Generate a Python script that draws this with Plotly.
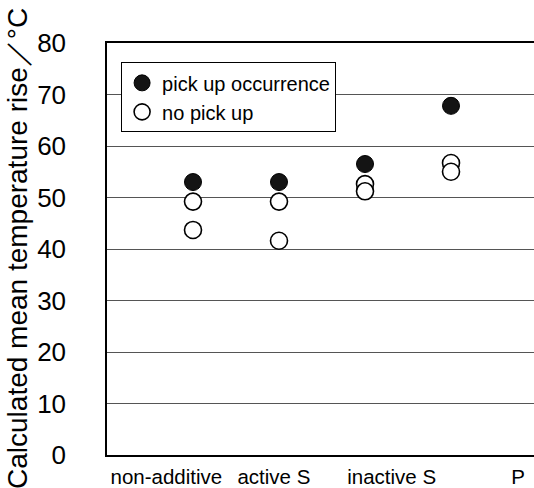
import plotly.graph_objects as go

categories = ["non-additive", "active S", "inactive S", "P"]
pick_up = [53.0, 53.0, 56.5, 67.8]
no_pick_up_upper = [49.2, 49.2, 52.6, 56.7]
no_pick_up_lower = [43.7, 41.6, 51.2, 55.0]
y_ticks = [0, 10, 20, 30, 40, 50, 60, 70, 80]

# category positions on the x axis (1..n) and where the labels are printed
cat_x = [i + 1 for i in range(len(categories))]
label_x = [0.69, 1.94, 3.31, 4.78]

FONT = "Liberation Sans, Arial, sans-serif"

fig = go.Figure()
fig.add_trace(go.Scatter(
    x=cat_x + cat_x,
    y=no_pick_up_upper + no_pick_up_lower,
    mode="markers",
    name="no pick up",
    marker=dict(symbol="circle", size=17, color="white",
                line=dict(color="black", width=1.6)),
))
fig.add_trace(go.Scatter(
    x=cat_x, y=pick_up, mode="markers", name="pick up occurrence",
    marker=dict(symbol="circle", size=17, color="#141414",
                line=dict(color="black", width=1)),
))

fig.update_layout(
    width=534, height=488,
    margin=dict(l=107, r=0, t=43, b=31),
    paper_bgcolor="white", plot_bgcolor="white",
    font=dict(family=FONT, color="black"),
    showlegend=True,
    legend=dict(
        x=0.033, y=0.953, xanchor="left", yanchor="top",
        bordercolor="black", borderwidth=1, bgcolor="white",
        font=dict(size=20, family=FONT), traceorder="reversed",
        itemwidth=30,
    ),
    xaxis=dict(
        range=[0, 4.965], tickvals=label_x, ticktext=categories,
        showgrid=False, zeroline=False, showline=True, linecolor="black",
        linewidth=1.5, mirror=True, ticks="", tickfont=dict(size=20.5),
        ticklabelstandoff=3,
    ),
    yaxis=dict(
        range=[0, 80], tickvals=y_ticks, showgrid=True, gridcolor="#555555",
        gridwidth=1, zeroline=False, showline=True, linecolor="black",
        linewidth=1.5, ticks="", tickfont=dict(size=26),
        ticklabelstandoff=34,
    ),
    annotations=[dict(
        text="Calculated mean temperature rise／°C", textangle=-90,
        xref="paper", yref="paper", x=(17 - 107) / 427, y=0.5,
        xanchor="center", yanchor="middle", showarrow=False,
        font=dict(size=28, family=FONT),
    )],
)

fig.write_html("out.html")
